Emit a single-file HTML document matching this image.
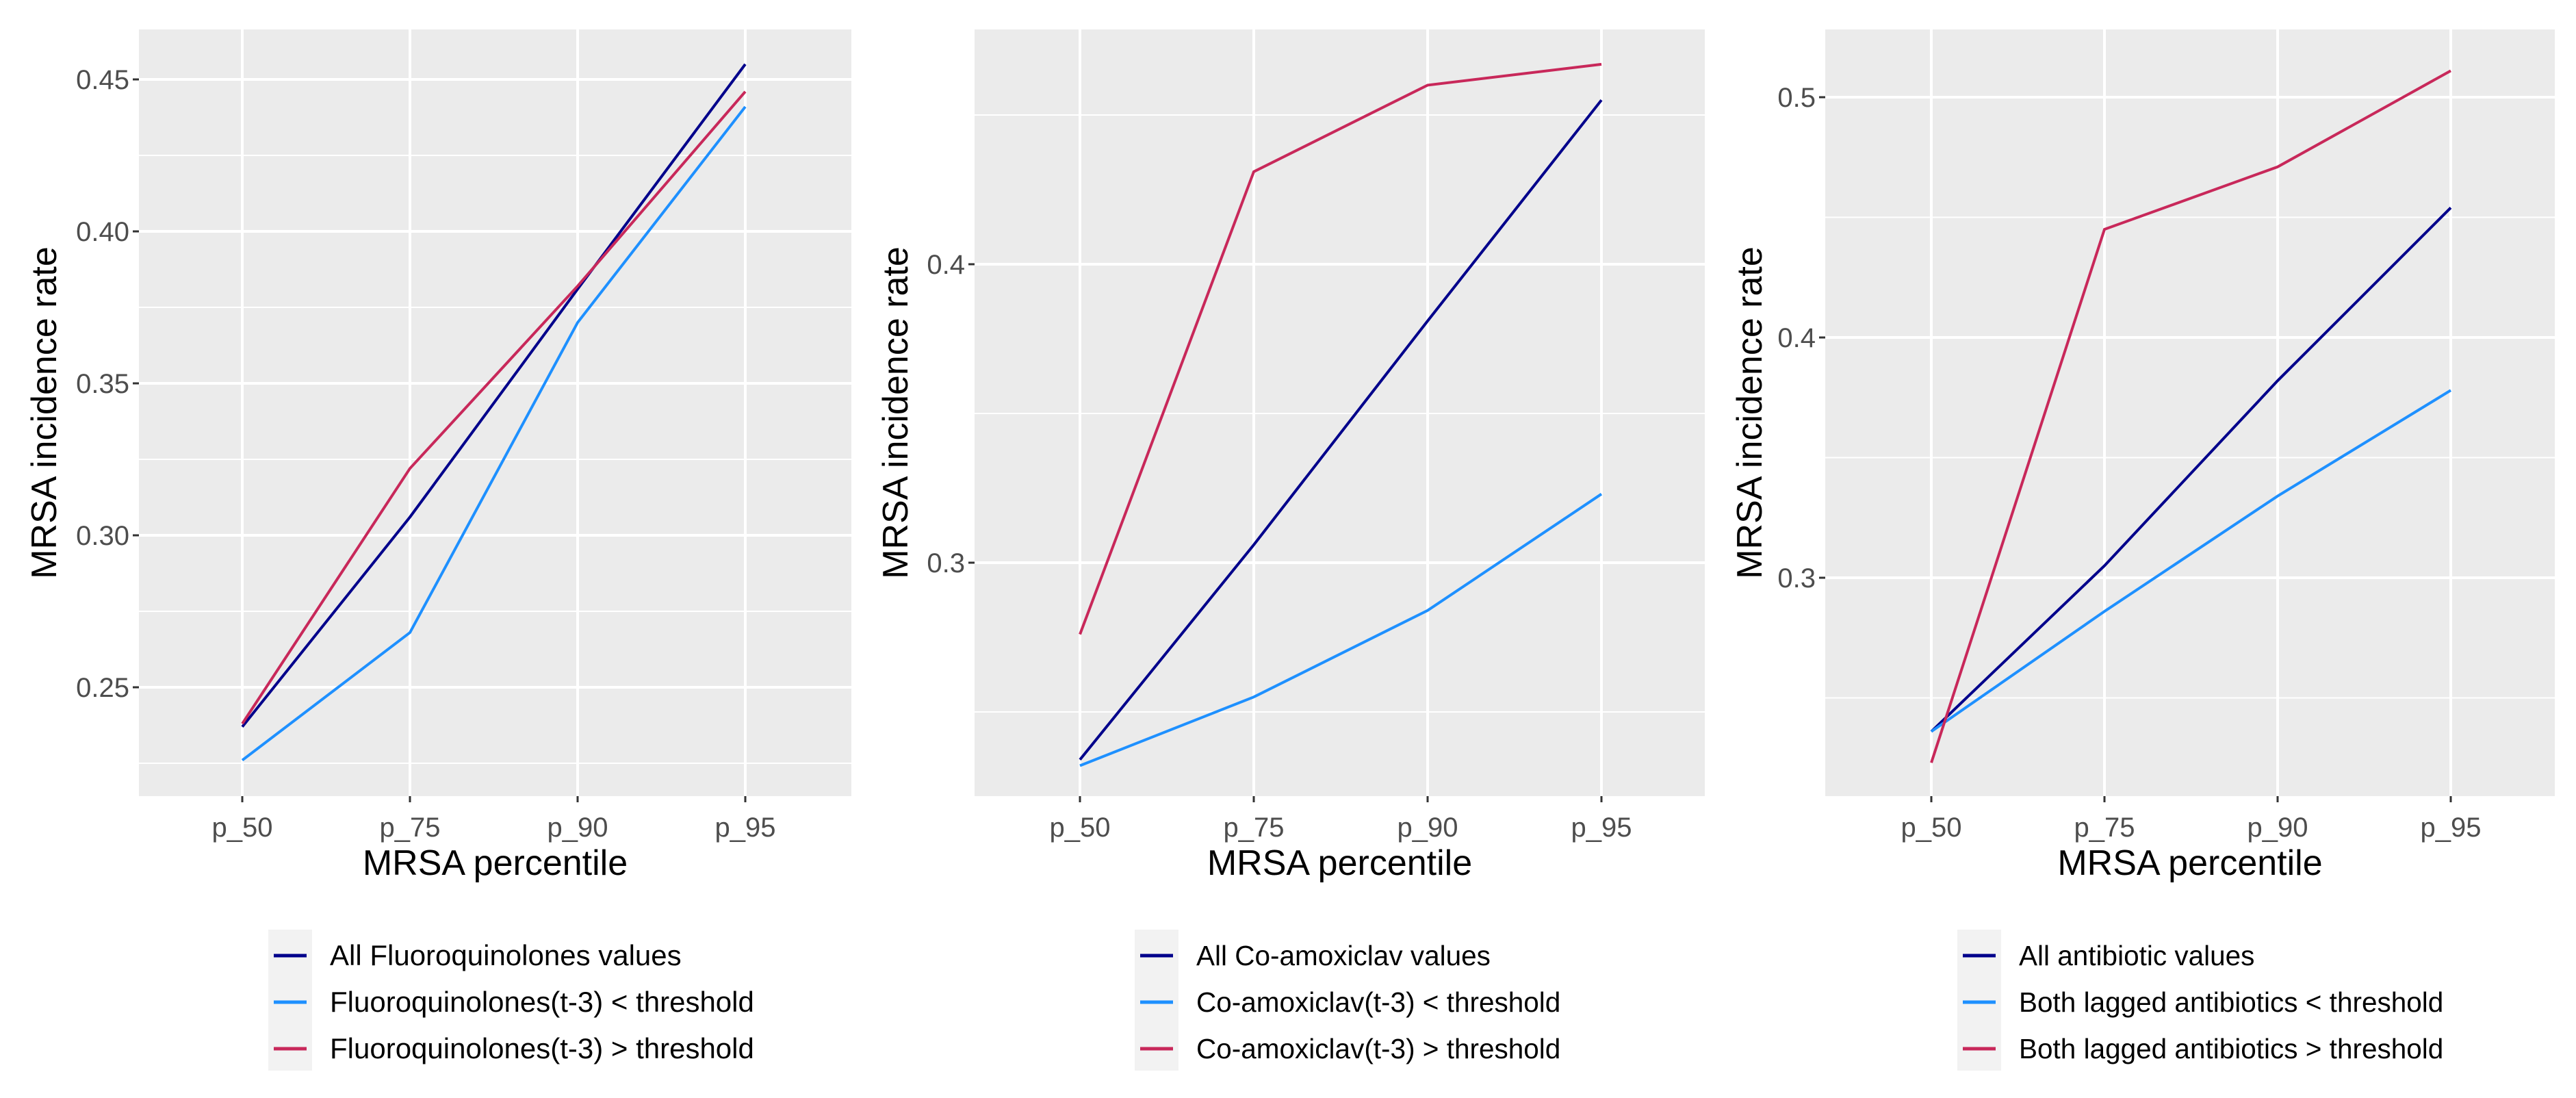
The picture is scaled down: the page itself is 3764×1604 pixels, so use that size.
<!DOCTYPE html>
<html><head><meta charset="utf-8"><style>
html,body{margin:0;padding:0;background:#fff;}
svg{display:block;font-family:"Liberation Sans",Arial,sans-serif;}
</style></head><body>
<svg id="chart" width="3764" height="1604" viewBox="0 0 3764 1604" xmlns="http://www.w3.org/2000/svg"></svg>
<script>
const categories = ["p_50","p_75","p_90","p_95"];
const p1All = [0.237,0.306,0.381,0.455];
const p1Low = [0.226,0.268,0.370,0.441];
const p1High = [0.238,0.322,0.382,0.446];
const p2All = [0.234,0.306,0.381,0.455];
const p2Low = [0.232,0.255,0.284,0.323];
const p2High = [0.276,0.431,0.460,0.467];
const p3All = [0.236,0.305,0.382,0.454];
const p3Low = [0.236,0.286,0.334,0.378];
const p3High = [0.223,0.445,0.471,0.511];
const p1Ticks = [0.25,0.30,0.35,0.40,0.45];
const p1TickLabels = ["0.25","0.30","0.35","0.40","0.45"];
const p1Minor = [0.225,0.275,0.325,0.375,0.425];
const p2Ticks = [0.3,0.4];
const p2TickLabels = ["0.3","0.4"];
const p2Minor = [0.25,0.35,0.45];
const p3Ticks = [0.3,0.4,0.5];
const p3TickLabels = ["0.3","0.4","0.5"];
const p3Minor = [0.25,0.35,0.45];
const legend1 = ["All Fluoroquinolones values","Fluoroquinolones(t-3) < threshold","Fluoroquinolones(t-3) > threshold"];
const legend2 = ["All Co-amoxiclav values","Co-amoxiclav(t-3) < threshold","Co-amoxiclav(t-3) > threshold"];
const legend3 = ["All antibiotic values","Both lagged antibiotics < threshold","Both lagged antibiotics > threshold"];

const NS="http://www.w3.org/2000/svg";
const svg=document.getElementById('chart');
const colors=["#00008b","#1e90ff","#c8285a"];
function mk(tag,attrs,parent){const e=document.createElementNS(NS,tag);for(const k in attrs)e.setAttribute(k,attrs[k]);(parent||svg).appendChild(e);return e;}

function panel(cfg){
  const g=mk('g',{});
  
  
  const xs=cfg.xs;
  const yOf=v=>cfg.y0-(v-cfg.v0)*cfg.k;
  const xOf=i=>xs[0]+i*(xs[1]-xs[0]);
  const bg=mk('rect',{x:cfg.left,y:43,width:cfg.right-cfg.left,height:1120,fill:'#ebebeb'},g);
  
  
  cfg.minor.forEach(v=>{const l=mk('line',{x1:cfg.left,x2:cfg.right,y1:yOf(v),y2:yOf(v),stroke:'#fff','stroke-width':2},g);
    
    });
  cfg.ticks.forEach((v,i)=>{const y=yOf(v);
    const l=mk('line',{x1:cfg.left,x2:cfg.right,y1:y,y2:y,stroke:'#fff','stroke-width':4},g);
    
    
    const t=mk('line',{x1:cfg.left-9,x2:cfg.left,y1:y,y2:y,stroke:'#333','stroke-width':3},g);
    
    
    const tx=mk('text',{x:cfg.left-14,y:y+14,'text-anchor':'end','font-size':40,fill:'#4d4d4d'},g);
    tx.textContent=cfg.tickLabels[i];
    
    });
  categories.forEach((c,i)=>{const x=xOf(i);
    const l=mk('line',{x1:x,x2:x,y1:43,y2:1163,stroke:'#fff','stroke-width':4},g);
    
    
    const t=mk('line',{x1:x,x2:x,y1:1163,y2:1172,stroke:'#333','stroke-width':3},g);
    
    
    const tx=mk('text',{x:x,y:1222,'text-anchor':'middle','font-size':40,fill:'#4d4d4d'},g);
    tx.textContent=c;
    
    });
  cfg.series.forEach((s,si)=>{
    const pts=s.map((v,i)=>xOf(i)+','+yOf(v)).join(' ');
    const p=mk('polyline',{points:pts,fill:'none',stroke:colors[si],'stroke-width':4},g);
    
    });
  const cx=(cfg.left+cfg.right)/2;
  const xt=mk('text',{x:cx,y:1278,'text-anchor':'middle','font-size':52,fill:'#000'},g);
  xt.textContent='MRSA percentile';
  
  
  const yt=mk('text',{x:0,y:0,'text-anchor':'middle','font-size':52,fill:'#000',transform:`translate(${cfg.ytx},603) rotate(-90)`},g);
  yt.textContent='MRSA incidence rate';
  
  
  const lg=mk('g',{},g);
  
  
  const lb=mk('rect',{x:cfg.lx,y:1358,width:64,height:206,fill:'#f2f2f2'},lg);
  
  
  cfg.legend.forEach((txt,i)=>{const y=1396+i*68;
    const k=mk('line',{x1:cfg.lx+8,x2:cfg.lx+56,y1:y,y2:y,stroke:colors[i],'stroke-width':5},lg);
    
    
    const t=mk('text',{x:cfg.lx+90,y:y+14,'font-size':cfg.lfs,fill:'#000'},lg);
    t.textContent=txt;
    
    });
}
panel({name:'panel-fluoroquinolones',left:203,right:1244,xs:[354,599],y0:338,v0:0.40,k:4440,ticks:p1Ticks,tickLabels:p1TickLabels,minor:p1Minor,series:[p1All,p1Low,p1High],ytx:82,lx:392,lfs:42,legend:legend1});
panel({name:'panel-co-amoxiclav',left:1424,right:2491,xs:[1578,1832],y0:386,v0:0.40,k:4360,ticks:p2Ticks,tickLabels:p2TickLabels,minor:p2Minor,series:[p2All,p2Low,p2High],ytx:1326,lx:1658,lfs:40.5,legend:legend2});
panel({name:'panel-all-antibiotics',left:2667,right:3733,xs:[2822,3075],y0:493,v0:0.40,k:3510,ticks:p3Ticks,tickLabels:p3TickLabels,minor:p3Minor,series:[p3All,p3Low,p3High],ytx:2574,lx:2860,lfs:40.5,legend:legend3});
</script>
</body></html>
